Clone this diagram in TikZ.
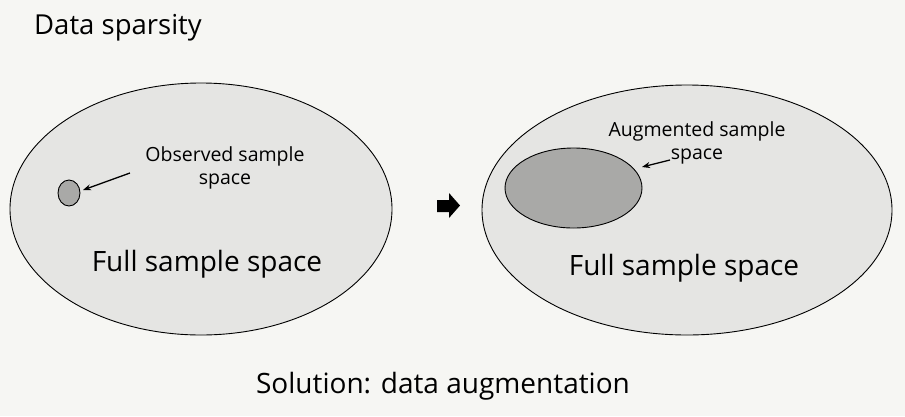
\documentclass[tikz,border=0pt]{standalone}
\usepackage{fontspec}
\setmainfont{Open Sans}
\usetikzlibrary{arrows.meta,shapes.geometric}
\definecolor{bgc}{HTML}{F6F6F3}
\definecolor{bigfill}{HTML}{E5E5E3}
\definecolor{smallfill}{HTML}{A9A9A7}
\begin{document}
\begin{tikzpicture}[x=1pt,y=-1pt,
  ell/.style={ellipse, draw=black, line width=0.9pt, inner sep=0pt, outer sep=0pt},
  bigell/.style={ell, fill=bigfill},
  smallell/.style={ell, fill=smallfill},
  lbl/.style={font=\fontsize{19.5}{23.5}\selectfont, align=center, inner sep=0pt},
  fulltxt/.style={font=\fontsize{28}{32}\selectfont, inner sep=0pt},
  ptr/.style={-{Stealth[length=8pt,width=6pt]}, line width=1.3pt}]
\fill[bgc] (0,0) rectangle (905,416);
\useasboundingbox (0,0) rectangle (905,416);
\node[font=\fontsize{27.5}{32}\selectfont, anchor=west, inner sep=0pt] (title) at (34,28) {Data sparsity};
% left
\node[bigell, minimum width=382pt, minimum height=252pt] (fullE) at (201,209) {};
\node[smallell, minimum width=22pt, minimum height=26pt] (obsE) at (69,193) {};
\node[lbl] (obstxt) at (225,168) {Observed sample\\space};
\coordinate (obsfrom) at (130,173);
\coordinate (obsto) at (83,190);
\draw[ptr] (obsfrom) -- (obsto);
\node[fulltxt] (fullL) at (207,264) {Full sample space};
% block arrow
\fill[black] (437,200) -- (449,200) -- (449,193) -- (460,205.5) -- (449,218) -- (449,212) -- (437,212) -- cycle;
% right
\node[bigell, minimum width=410pt, minimum height=250pt] (fullE2) at (687,210) {};
\node[smallell, minimum width=137pt, minimum height=80pt] (augE) at (573.5,188) {};
\node[lbl] (augtxt) at (697,143) {Augmented sample\\space};
\coordinate (augfrom) at (670,160);
\coordinate (augto) at (642,167);
\draw[ptr] (augfrom) -- (augto);
\node[fulltxt] (fullR) at (684,268) {Full sample space};
\node[font=\fontsize{28}{33}\selectfont, inner sep=0pt] (sol) at (443,386) {Solution: data augmentation};
\end{tikzpicture}
\end{document}
